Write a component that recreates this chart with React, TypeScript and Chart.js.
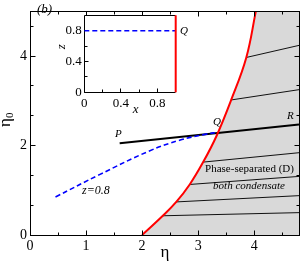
import React, { useEffect, useRef } from 'react';
import { Chart, registerables } from 'chart.js';

Chart.register(...registerables);

const FONT = "'Liberation Serif', 'DejaVu Serif', serif";

// ---------- main chart data ----------
const xMajor = [0, 1, 2, 3, 4];
const xMinor = [0.5, 1.5, 2.5, 3.5, 4.5];
const yMajor = [0, 2, 4];
const yMinor = [2 / 3, 4 / 3, 8 / 3, 10 / 3, 14 / 3];

const boundaryEta = [2.0, 2.37, 2.61, 2.85, 3.09, 3.33, 3.59, 3.86, 4.03];
const boundaryEta0 = [0, 0.43, 0.74, 1.13, 1.63, 2.22, 3.02, 3.97, 5.0];

const dashedEta = [0.455, 1.24, 2.13, 2.67, 3.12, 3.37];
const dashedEta0 = [0.85, 1.35, 1.88, 2.12, 2.25, 2.3];

const prEta = [1.6, 4.8];
const prEta0 = [2.05, 2.47];

const tieStartEta = [2.37, 2.61, 2.85, 3.09, 3.59, 3.86];
const tieStartEta0 = [0.43, 0.74, 1.13, 1.63, 3.02, 3.97];
const tieEndEta = [4.8, 4.8, 4.8, 4.8, 4.8, 4.8];
const tieEndEta0 = [0.5, 0.88, 1.31, 1.84, 3.25, 4.24];

// ---------- inset data ----------
const insetXMajor = [0, 0.4, 0.8];
const insetXMinor = [0.2, 0.6];
const insetYMajor = [0, 0.4, 0.8];
const insetYMinor = [0.2, 0.6];
const insetDashX = [0, 1];
const insetDashZ = [0.8, 0.8];
const insetRedX = [1, 1];
const insetRedZ = [0, 1];

const GRAY = '#d9d9d9';
const RED = '#ff0000';
const BLUE = '#0000ff';

const pts = (xs: number[], ys: number[]) => xs.map((x, i) => ({ x, y: ys[i] }));

function crisp(v: number) {
  return Math.round(v - 0.5) + 0.5;
}

const mainDecor = {
  id: 'mainDecor',
  beforeDatasetsDraw(chart: any) {
    const { ctx, chartArea: a } = chart;
    const meta = chart.getDatasetMeta(0);
    const line: any = meta && meta.dataset;
    if (!line) return;
    if (line.updateControlPoints) line.updateControlPoints(a, 'x');
    ctx.save();
    ctx.beginPath();
    ctx.rect(a.left, a.top, a.right - a.left, a.bottom - a.top);
    ctx.clip();
    ctx.beginPath();
    line.path(ctx);
    ctx.lineTo(a.right, a.top);
    ctx.lineTo(a.right, a.bottom);
    ctx.closePath();
    ctx.fillStyle = GRAY;
    ctx.fill();
    ctx.restore();
  },
  afterDatasetsDraw(chart: any) {
    const { ctx, chartArea: a, scales } = chart;
    const xs = scales.x;
    const ys = scales.y;
    ctx.save();
    ctx.strokeStyle = '#000';
    ctx.lineWidth = 1;
    ctx.beginPath();
    const L = crisp(a.left), R = crisp(a.right), T = crisp(a.top), B = crisp(a.bottom);
    const xt = (v: number, len: number) => {
      const p = crisp(xs.getPixelForValue(v));
      ctx.moveTo(p, B); ctx.lineTo(p, B - len);
      ctx.moveTo(p, T); ctx.lineTo(p, T + len);
    };
    const yt = (v: number, len: number) => {
      const p = crisp(ys.getPixelForValue(v));
      ctx.moveTo(L, p); ctx.lineTo(L + len, p);
      ctx.moveTo(R, p); ctx.lineTo(R - len, p);
    };
    xMajor.forEach((v) => xt(v, 5));
    xMinor.forEach((v) => xt(v, 3));
    yMajor.forEach((v) => yt(v, 5));
    yMinor.forEach((v) => yt(v, 3));
    ctx.stroke();
    ctx.strokeRect(L, T, R - L, B - T);
    ctx.restore();
  },
  afterDraw(chart: any) {
    const { ctx } = chart;
    ctx.save();
    ctx.fillStyle = '#000';
    ctx.textBaseline = 'alphabetic';
    ctx.textAlign = 'left';
    ctx.font = `italic 13px ${FONT}`;
    ctx.fillText('(b)', 37, 13);
    ctx.font = `italic 11px ${FONT}`;
    ctx.fillText('P', 115, 136.5);
    ctx.fillText('Q', 213, 125);
    ctx.fillText('R', 287, 118.5);
    ctx.font = `italic 12px ${FONT}`;
    ctx.fillText('z=0.8', 82, 194);
    ctx.textAlign = 'center';
    ctx.font = `11px ${FONT}`;
    ctx.fillText('Phase-separated (D)', 249.5, 171.7);
    ctx.font = `italic 11px ${FONT}`;
    ctx.fillText('both condensate', 249, 189);
    ctx.font = `17px ${FONT}`;
    ctx.fillText('η', 165, 257);
    // rotated eta_0
    ctx.translate(10, 127);
    ctx.rotate(-Math.PI / 2);
    ctx.textAlign = 'left';
    ctx.font = `17px ${FONT}`;
    ctx.fillText('η', 0, 0);
    ctx.font = `11px ${FONT}`;
    ctx.fillText('0', 9, 3);
    ctx.restore();
  },
};

const insetDecor = {
  id: 'insetDecor',
  beforeDatasetsDraw(chart: any) {
    const { ctx, chartArea: a, scales } = chart;
    ctx.save();
    ctx.fillStyle = '#fff';
    ctx.fillRect(a.left, a.top, a.right - a.left, a.bottom - a.top);
    ctx.strokeStyle = '#000';
    ctx.lineWidth = 1;
    const L = crisp(a.left), R = crisp(a.right), T = crisp(a.top), B = crisp(a.bottom);
    ctx.beginPath();
    ctx.moveTo(R, T); ctx.lineTo(L, T); ctx.lineTo(L, B); ctx.lineTo(R, B);
    const xs = scales.x, ys = scales.y;
    const xt = (v: number, len: number) => {
      const p = crisp(xs.getPixelForValue(v));
      ctx.moveTo(p, B); ctx.lineTo(p, B - len);
    };
    const yt = (v: number, len: number) => {
      const p = crisp(ys.getPixelForValue(v));
      ctx.moveTo(L, p); ctx.lineTo(L + len, p);
    };
    insetXMajor.forEach((v) => xt(v, 4));
    insetXMinor.forEach((v) => xt(v, 3));
    insetYMajor.forEach((v) => yt(v, 4));
    insetYMinor.forEach((v) => yt(v, 3));
    ctx.stroke();
    ctx.restore();
  },
  afterDraw(chart: any) {
    const { ctx } = chart;
    ctx.save();
    ctx.fillStyle = '#000';
    ctx.font = `italic 11px ${FONT}`;
    ctx.textAlign = 'left';
    ctx.textBaseline = 'alphabetic';
    ctx.fillText('Q', 130, 28.5);
    ctx.font = `italic 13px ${FONT}`;
    ctx.textAlign = 'center';
    ctx.fillText('x', 85.7, 108.3);
    ctx.translate(12, 41.7);
    ctx.rotate(-Math.PI / 2);
    ctx.textBaseline = 'middle';
    ctx.fillText('z', 0, 0);
    ctx.restore();
  },
};

function MainChart() {
  const ref = useRef<HTMLCanvasElement>(null);
  useEffect(() => {
    const chart = new Chart(ref.current as HTMLCanvasElement, {
      type: 'line',
      data: {
        datasets: [
          {
            data: pts(boundaryEta, boundaryEta0),
            borderColor: RED,
            borderWidth: 2,
            pointRadius: 0,
            fill: false,
            tension: 0.4,
            clip: false as any,
          },
          {
            data: pts(dashedEta, dashedEta0),
            borderColor: BLUE,
            borderWidth: 1.6,
            borderDash: [5, 3],
            pointRadius: 0,
            fill: false,
            tension: 0.4,
          },
          {
            data: pts(prEta, prEta0),
            borderColor: '#000',
            borderWidth: 2,
            pointRadius: 0,
            fill: false,
          },
          ...tieStartEta.map((x0, i) => ({
            data: [
              { x: x0, y: tieStartEta0[i] },
              { x: tieEndEta[i], y: tieEndEta0[i] },
            ],
            borderColor: '#111',
            borderWidth: 1,
            pointRadius: 0,
            fill: false,
          })),
        ] as any,
      },
      options: {
        responsive: false,
        animation: false,
        events: [],
        layout: { padding: { left: 0, top: 2, right: 1, bottom: 0 } },
        plugins: { legend: { display: false }, tooltip: { enabled: false } },
        scales: {
          x: {
            type: 'linear',
            min: 0,
            max: 4.8,
            grid: { display: false, drawTicks: false },
            border: { display: false },
            ticks: {
              color: '#000',
              font: { family: FONT, size: 14 },
              padding: 3,
              maxRotation: 0,
              autoSkip: false,
              callback: (v: any) => String(v),
            },
            afterBuildTicks: (s: any) => {
              s.ticks = xMajor.map((v) => ({ value: v }));
            },
            afterFit: (s: any) => {
              s.height = 29;
            },
          },
          y: {
            type: 'linear',
            min: 0,
            max: 5,
            grid: { display: false, drawTicks: false },
            border: { display: false },
            ticks: {
              color: '#000',
              font: { family: FONT, size: 14 },
              padding: 3,
              autoSkip: false,
              callback: (v: any) => String(v),
            },
            afterBuildTicks: (s: any) => {
              s.ticks = yMajor.map((v) => ({ value: v }));
            },
            afterFit: (s: any) => {
              s.width = 30;
            },
          },
        },
      } as any,
      plugins: [mainDecor],
    });
    return () => chart.destroy();
  }, []);
  return (
    <canvas
      ref={ref}
      width={300}
      height={264}
      style={{ position: 'absolute', left: 0, top: 0, width: 300, height: 264, display: 'block' }}
    />
  );
}

function InsetChart() {
  const ref = useRef<HTMLCanvasElement>(null);
  useEffect(() => {
    const chart = new Chart(ref.current as HTMLCanvasElement, {
      type: 'line',
      data: {
        datasets: [
          {
            data: pts(insetRedX, insetRedZ),
            borderColor: RED,
            borderWidth: 2,
            pointRadius: 0,
            fill: false,
            clip: false as any,
          },
          {
            data: pts(insetDashX, insetDashZ),
            borderColor: BLUE,
            borderWidth: 1.6,
            borderDash: [5, 3],
            pointRadius: 0,
            fill: false,
          },
        ] as any,
      },
      options: {
        responsive: false,
        animation: false,
        events: [],
        layout: { padding: { left: 0, top: 8.3, right: 14.3, bottom: 0 } },
        plugins: { legend: { display: false }, tooltip: { enabled: false } },
        scales: {
          x: {
            type: 'linear',
            min: 0,
            max: 1,
            grid: { display: false, drawTicks: false },
            border: { display: false },
            ticks: {
              color: '#000',
              font: { family: FONT, size: 13 },
              padding: 3,
              maxRotation: 0,
              autoSkip: false,
              callback: (v: any) => String(v),
            },
            afterBuildTicks: (s: any) => {
              s.ticks = insetXMajor.map((v) => ({ value: v }));
            },
            afterFit: (s: any) => {
              s.height = 27.7;
            },
          },
          y: {
            type: 'linear',
            min: 0,
            max: 1,
            grid: { display: false, drawTicks: false },
            border: { display: false },
            ticks: {
              color: '#000',
              font: { family: FONT, size: 13 },
              padding: 2.5,
              autoSkip: false,
              callback: (v: any) => String(v),
            },
            afterBuildTicks: (s: any) => {
              s.ticks = insetYMajor.map((v) => ({ value: v }));
            },
            afterFit: (s: any) => {
              s.width = 34.3;
            },
          },
        },
      } as any,
      plugins: [insetDecor],
    });
    return () => chart.destroy();
  }, []);
  return (
    <canvas
      ref={ref}
      width={140}
      height={115}
      style={{ position: 'absolute', left: 50, top: 5, width: 140, height: 115, display: 'block' }}
    />
  );
}

export default function App() {
  useEffect(() => {
    document.body.style.margin = '0';
  }, []);
  return (
    <div style={{ position: 'relative', width: 300, height: 264, background: '#fff', overflow: 'hidden' }}>
      <MainChart />
      <InsetChart />
    </div>
  );
}
